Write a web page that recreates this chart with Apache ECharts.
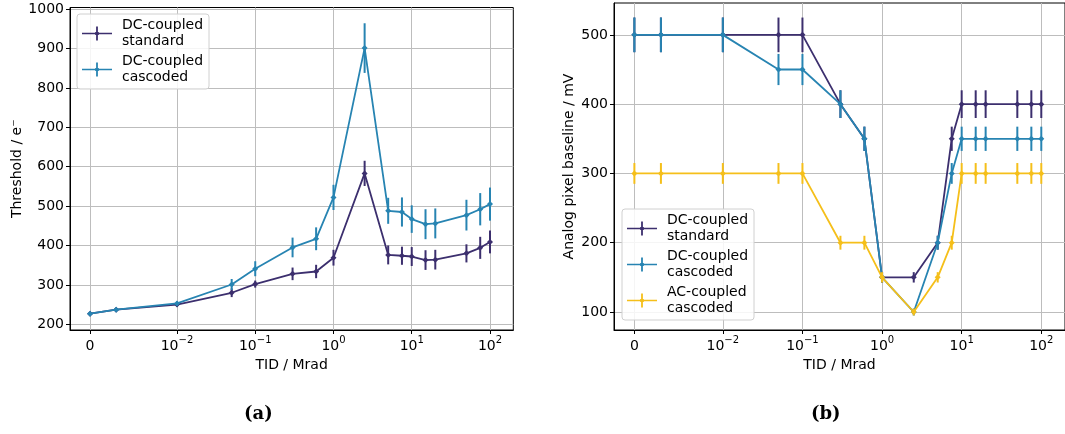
<!DOCTYPE html>
<html>
<head>
<meta charset="utf-8">
<script src="https://cdn.jsdelivr.net/npm/echarts@6/dist/echarts.min.js"></script>
<style>
  html, body { margin: 0; padding: 0; background: #fff; }
  #chart { width: 1065px; height: 434px; }
</style>
</head>
<body>
<div id="chart"></div>
<script>
// Total ionising dose steps (Mrad)
const tid = [0, 0.003, 0.01, 0.05, 0.1, 0.3, 0.6, 1, 2.5, 5, 7.5, 10, 15, 20, 50, 75, 100];

// (a) Threshold in electrons
const thrStd    = [227, 237, 250, 280, 302, 328, 334, 369, 583, 376, 374, 372, 363, 364, 380, 394, 409];
const thrStdErr = [3, 4, 5, 11, 9, 16, 17, 20, 32, 24, 23, 24, 25, 25, 23, 28, 29];
const thrCas    = [227, 237, 253, 301, 341, 395, 417, 522, 901, 488, 485, 467, 454, 456, 477, 492, 505];
const thrCasErr = [3, 4, 5, 14, 19, 25, 29, 32, 63, 33, 37, 35, 38, 38, 39, 41, 42];

// (b) Analog pixel baseline in mV
const baseStd    = [500, 500, 500, 500, 500, 400, 350, 150, 150, 200, 350, 400, 400, 400, 400, 400, 400];
const baseStdErr = [25, 25, 25, 25, 25, 20, 17.5, 7.5, 7.5, 10, 17.5, 20, 20, 20, 20, 20, 20];
const baseCas    = [500, 500, 500, 450, 450, 400, 350, 150, 100, 200, 300, 350, 350, 350, 350, 350, 350];
const baseCasErr = [25, 25, 25, 22.5, 22.5, 20, 17.5, 7.5, 5, 10, 15, 17.5, 17.5, 17.5, 17.5, 17.5, 17.5];
const baseAc     = [300, 300, 300, 300, 300, 200, 200, 150, 100, 150, 200, 300, 300, 300, 300, 300, 300];
const baseAcErr  = [15, 15, 15, 15, 15, 10, 10, 7.5, 5, 7.5, 10, 15, 15, 15, 15, 15, 15];

// Axis ticks
const xTicks = [0, 0.01, 0.1, 1, 10, 100];
const xTickExp = [null, '−2', '−1', '0', '1', '2'];
const yTicksA = [200, 300, 400, 500, 600, 700, 800, 900, 1000];
const yTicksB = [100, 200, 300, 400, 500];

const names = ['DC-coupled\nstandard', 'DC-coupled\ncascoded', 'AC-coupled\ncascoded'];
const colors = ['#3c2f6e', '#2784b2', '#f5bf1a'];

// symmetric-log scale, linear below 0.01, measured in decades
const LINTHRESH = 0.01;
const LINSCALE = 1 / (1 - 1 / 10);
function symlog(x) {
  if (x <= LINTHRESH) return (x / LINTHRESH) * LINSCALE;
  return LINSCALE + Math.log10(x / LINTHRESH);
}

const FONT = 'DejaVu Sans';
const FS = 14;
const xTickPos = xTicks.map(symlog);

function xLabel(v) {
  let best = 0;
  for (let i = 1; i < xTickPos.length; i++) {
    if (Math.abs(xTickPos[i] - v) < Math.abs(xTickPos[best] - v)) best = i;
  }
  return xTickExp[best] === null ? '{n|0}' : '{n|10}{s|' + xTickExp[best] + '}';
}

function xAxisCfg(gridIndex) {
  return {
    type: 'value', gridIndex, min: -0.256, max: 5.409,
    name: 'TID / Mrad', nameLocation: 'middle', nameGap: 25,
    nameTextStyle: { fontFamily: FONT, fontSize: FS, color: '#000' },
    axisLine: { show: true, onZero: false, lineStyle: { color: '#000', width: 1 } },
    axisTick: { show: true, length: 4, customValues: xTickPos, lineStyle: { color: '#000' } },
    axisLabel: {
      show: true, margin: 5, customValues: xTickPos, formatter: xLabel,
      color: '#000', fontFamily: FONT, fontSize: FS,
      rich: {
        n: { fontFamily: FONT, fontSize: FS, color: '#000', lineHeight: 18, verticalAlign: 'bottom' },
        s: { fontFamily: FONT, fontSize: 10, color: '#000', lineHeight: 18, verticalAlign: 'top' }
      }
    },
    splitLine: { show: true, lineStyle: { color: '#bdbdbd', width: 1 } }
  };
}

function yAxisCfg(gridIndex, min, max, ticks, name, gap) {
  return {
    type: 'value', gridIndex, min, max,
    name, nameLocation: 'middle', nameGap: gap,
    nameTextStyle: { fontFamily: FONT, fontSize: FS, color: '#000' },
    axisLine: { show: true, onZero: false, lineStyle: { color: '#000', width: 1 } },
    axisTick: { show: true, length: 4, customValues: ticks, lineStyle: { color: '#000' } },
    axisLabel: {
      show: true, margin: 6, customValues: ticks, formatter: v => String(v),
      color: '#000', fontFamily: FONT, fontSize: FS
    },
    splitLine: { show: true, lineStyle: { color: '#bdbdbd', width: 1 } }
  };
}

function lineSeries(name, color, vals, axisIdx, z) {
  return {
    type: 'line', name, xAxisIndex: axisIdx, yAxisIndex: axisIdx, z,
    data: tid.map((t, i) => [symlog(t), vals[i]]),
    symbol: 'diamond', symbolSize: 6, showSymbol: true,
    itemStyle: { color }, lineStyle: { color, width: 1.8 },
    emphasis: { disabled: true }, animation: false
  };
}

function errSeries(name, color, vals, errs, axisIdx, z) {
  return {
    type: 'custom', name, xAxisIndex: axisIdx, yAxisIndex: axisIdx, z,
    data: tid.map((t, i) => [symlog(t), vals[i] - errs[i], vals[i] + errs[i]]),
    encode: { x: 0, y: [1, 2] },
    itemStyle: { color },
    renderItem(params, api) {
      const p1 = api.coord([api.value(0), api.value(1)]);
      const p2 = api.coord([api.value(0), api.value(2)]);
      return {
        type: 'line',
        shape: { x1: p1[0], y1: p1[1], x2: p2[0], y2: p2[1] },
        style: { stroke: color, lineWidth: 2 }
      };
    },
    animation: false, silent: true
  };
}

const legendIcon = 'path://M0,7.2 L30,7.2 L30,8.8 L0,8.8 Z M14.1,1 L15.9,1 L15.9,15 L14.1,15 Z M13.2,6.4 L16.8,6.4 L16.8,9.6 L13.2,9.6 Z';

function legendCfg(left, top, items) {
  return {
    orient: 'vertical', left, top,
    data: items.map(n => ({ name: n, icon: legendIcon })),
    itemWidth: 30, itemHeight: 16, itemGap: 5,
    padding: [4, 6, 4, 5],
    backgroundColor: 'rgba(255,255,255,0.85)',
    borderColor: '#d0d0d0', borderWidth: 1, borderRadius: 3,
    textStyle: { fontFamily: FONT, fontSize: FS, color: '#000', lineHeight: 15.5, padding: [0, 0, 0, 5] },
    selectedMode: false
  };
}

const chart = echarts.init(document.getElementById('chart'), null, { renderer: 'canvas' });
chart.setOption({
  animation: false,
  backgroundColor: '#fff',
  grid: [
    { left: 70, top: 7.5, width: 443.3, height: 322.5, show: true, borderColor: '#000', borderWidth: 1, backgroundColor: 'transparent' },
    { left: 614, top: 3, width: 453, height: 327, show: true, borderColor: '#000', borderWidth: 1, backgroundColor: 'transparent' }
  ],
  xAxis: [xAxisCfg(0), xAxisCfg(1)],
  yAxis: [
    yAxisCfg(0, 185.5, 1004, yTicksA, 'Threshold / e⁻', 46),
    yAxisCfg(1, 74, 546, yTicksB, 'Analog pixel baseline / mV', 38)
  ],
  legend: [
    legendCfg(77, 14, [names[0], names[1]]),
    legendCfg(622, 209, [names[0], names[1], names[2]])
  ],
  series: [
    errSeries(names[0], colors[0], thrStd, thrStdErr, 0, 2),
    lineSeries(names[0], colors[0], thrStd, 0, 3),
    errSeries(names[1], colors[1], thrCas, thrCasErr, 0, 4),
    lineSeries(names[1], colors[1], thrCas, 0, 5),
    errSeries(names[0], colors[0], baseStd, baseStdErr, 1, 2),
    lineSeries(names[0], colors[0], baseStd, 1, 3),
    errSeries(names[1], colors[1], baseCas, baseCasErr, 1, 4),
    lineSeries(names[1], colors[1], baseCas, 1, 5),
    errSeries(names[2], colors[2], baseAc, baseAcErr, 1, 6),
    lineSeries(names[2], colors[2], baseAc, 1, 7)
  ],
  graphic: [
    { type: 'text', left: 244, top: 405, style: { text: '(a)', font: 'bold 18px "DejaVu Serif"', fill: '#000' } },
    { type: 'text', left: 811, top: 405, style: { text: '(b)', font: 'bold 18px "DejaVu Serif"', fill: '#000' } }
  ]
});
</script>
</body>
</html>
